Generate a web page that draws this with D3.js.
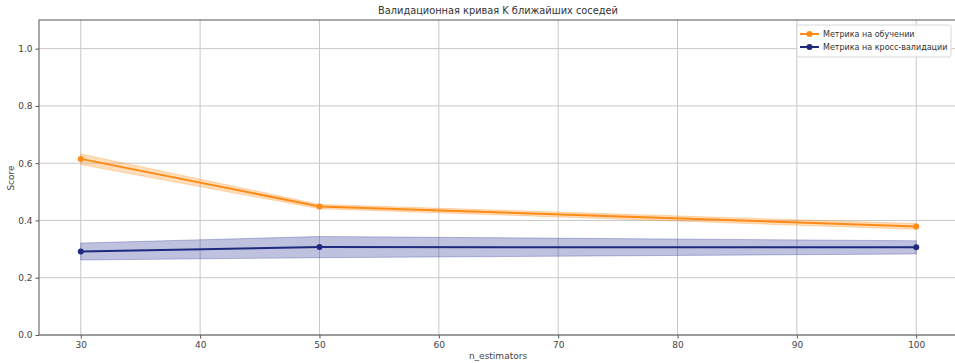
<!DOCTYPE html>
<html>
<head>
<meta charset="utf-8">
<script src="https://cdn.jsdelivr.net/npm/d3@7"></script>
<style>
  html, body { margin: 0; padding: 0; background: #fff; }
  svg { display: block; font-family: "DejaVu Sans", sans-serif; }
</style>
</head>
<body>
<svg id="chart" width="955" height="363"></svg>
<script>
// n_estimators values and scores (mean ± spread) for train and cross-validation
const nEstimators = [30, 50, 100];
const trainMean = [0.615, 0.449, 0.379];
const trainLow  = [0.595, 0.441, 0.369];
const trainHigh = [0.632, 0.456, 0.389];
const cvMean = [0.292, 0.307, 0.306];
const cvLow  = [0.262, 0.270, 0.283];
const cvHigh = [0.321, 0.344, 0.329];
const xTicks = [30, 40, 50, 60, 70, 80, 90, 100];
const yTicks = [0.0, 0.2, 0.4, 0.6, 0.8, 1.0];
const seriesNames = ["Метрика на обучении", "Метрика на кросс-валидации"];
const titleText = "Валидационная кривая K ближайших соседей";

const svg = d3.select("#chart");
const m = { left: 39, top: 20, right: 958, bottom: 335 };

const x = d3.scaleLinear().domain([26.5, 103.5]).range([m.left, m.right]);
const y = d3.scaleLinear().domain([0, 1.1]).range([m.bottom, m.top]);

const orange = "#ff8a14";
const navy = "#1e2a7e";

// grid
const grid = svg.append("g");
grid.selectAll("line.vx").data(xTicks).join("line")
  .attr("x1", d => x(d)).attr("x2", d => x(d))
  .attr("y1", m.top).attr("y2", m.bottom)
  .attr("stroke", "#c8c8c8").attr("stroke-width", 1);
grid.selectAll("line.hy").data(yTicks).join("line")
  .attr("x1", m.left).attr("x2", m.right)
  .attr("y1", d => y(d)).attr("y2", d => y(d))
  .attr("stroke", "#c8c8c8").attr("stroke-width", 1);

// bands
const idx = d3.range(nEstimators.length);
const area = (lo, hi) => d3.area()
  .x(i => x(nEstimators[i])).y0(i => y(lo[i])).y1(i => y(hi[i]))(idx);
svg.append("path").attr("d", area(trainLow, trainHigh))
  .attr("fill", orange).attr("fill-opacity", 0.28)
  .attr("stroke", orange).attr("stroke-opacity", 0.3);
svg.append("path").attr("d", area(cvLow, cvHigh))
  .attr("fill", "#2a3596").attr("fill-opacity", 0.3)
  .attr("stroke", "#2a3596").attr("stroke-opacity", 0.3);

// lines and markers
const line = vals => d3.line().x(i => x(nEstimators[i])).y(i => y(vals[i]))(idx);
[[trainMean, orange], [cvMean, navy]].forEach(([vals, c]) => {
  svg.append("path").attr("d", line(vals)).attr("fill", "none")
    .attr("stroke", c).attr("stroke-width", 2);
  svg.append("g").selectAll("circle").data(idx).join("circle")
    .attr("cx", i => x(nEstimators[i])).attr("cy", i => y(vals[i]))
    .attr("r", 3).attr("fill", c);
});

// axes
const xAxis = d3.axisBottom(x).tickValues(xTicks).tickSize(3.5).tickPadding(3).tickFormat(d3.format("d"));
const yAxis = d3.axisLeft(y).tickValues(yTicks).tickSize(3.5).tickPadding(3).tickFormat(d3.format(".1f"));
const gx = svg.append("g").attr("transform", `translate(0,${m.bottom})`).call(xAxis);
const gy = svg.append("g").attr("transform", `translate(${m.left},0)`).call(yAxis);
[gx, gy].forEach(g => {
  g.select(".domain").remove();
  g.selectAll("line").attr("stroke", "#555");
  g.selectAll("text").attr("fill", "#444").attr("font-size", 9)
    .attr("font-family", "DejaVu Sans, sans-serif");
});

// frame
svg.append("rect").attr("x", m.left).attr("y", m.top)
  .attr("width", m.right - m.left).attr("height", m.bottom - m.top)
  .attr("fill", "none").attr("stroke", "#555").attr("stroke-width", 1);

// labels
svg.append("text").attr("x", 498).attr("y", 14).attr("text-anchor", "middle")
  .attr("font-size", 9.8).attr("fill", "#333").text(titleText);
svg.append("text").attr("x", 498).attr("y", 359).attr("text-anchor", "middle")
  .attr("font-size", 9).attr("fill", "#444").text("n_estimators");
svg.append("text").attr("transform", "translate(14,178) rotate(-90)")
  .attr("text-anchor", "middle").attr("font-size", 9).attr("fill", "#444").text("Score");

// legend
const lg = svg.append("g").attr("transform", "translate(797,25)");
lg.append("rect").attr("width", 154).attr("height", 32).attr("rx", 2)
  .attr("fill", "#fff").attr("fill-opacity", 0.85).attr("stroke", "#d8d8d8");
[[orange, 0], [navy, 1]].forEach(([c, i]) => {
  const yy = 9 + i * 13;
  lg.append("line").attr("x1", 3).attr("x2", 22).attr("y1", yy).attr("y2", yy)
    .attr("stroke", c).attr("stroke-width", 2);
  lg.append("circle").attr("cx", 12.5).attr("cy", yy).attr("r", 3).attr("fill", c);
  lg.append("text").attr("x", 26).attr("y", yy + 3).attr("font-size", 8)
    .attr("fill", "#333").text(seriesNames[i]);
});
</script>
</body>
</html>
